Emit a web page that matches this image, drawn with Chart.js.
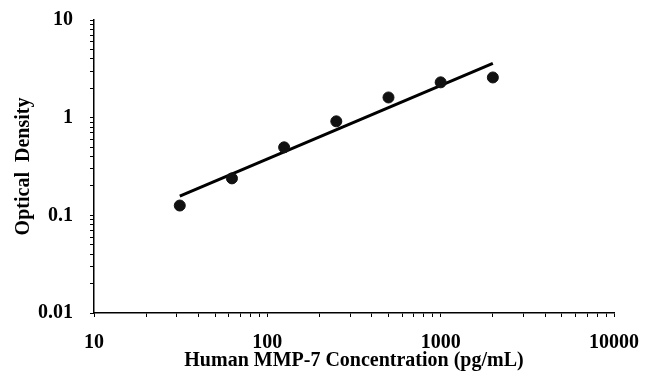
<!DOCTYPE html>
<html>
<head>
<meta charset="utf-8">
<script src="https://cdn.jsdelivr.net/npm/chart.js@4/dist/chart.umd.min.js"></script>
<style>
  html, body { margin: 0; padding: 0; background: #fff; }
  #wrap { width: 645px; height: 383px; }
</style>
</head>
<body>
<div id="wrap"><canvas id="stdCurve"></canvas></div>
<script>
// concentrations (pg/mL) and measured OD
var concentrations = [31.25, 62.5, 125, 250, 500, 1000, 2000];
var odValues = [0.126, 0.239, 0.497, 0.917, 1.61, 2.30, 2.58];

// trend line end points
var trendX = [31.25, 2000];
var trendY = [0.157, 3.6];

// tick positions and which ones get a label
var xTicks = [10, 20, 30, 40, 50, 60, 70, 80, 90,
              100, 200, 300, 400, 500, 600, 700, 800, 900,
              1000, 2000, 3000, 4000, 5000, 6000, 7000, 8000, 9000, 10000];
var xLabels = [10, 100, 1000, 10000];
var yTicks = [0.01, 0.02, 0.03, 0.04, 0.05, 0.06, 0.07, 0.08, 0.09,
              0.1, 0.2, 0.3, 0.4, 0.5, 0.6, 0.7, 0.8, 0.9,
              1, 2, 3, 4, 5, 6, 7, 8, 9, 10];
var yLabels = [0.01, 0.1, 1, 10];

var serif = "'Liberation Serif', 'Times New Roman', serif";
var boldFont = { family: serif, size: 20, weight: 'bold', lineHeight: 1 };

function toPoints(xs, ys) {
  return xs.map(function (x, i) { return { x: x, y: ys[i] }; });
}

function labelFor(list) {
  return function (value) {
    for (var i = 0; i < list.length; i++) {
      if (Math.abs(list[i] - value) < list[i] * 1e-6) return String(list[i]);
    }
    return '';
  };
}

var ctx = document.getElementById('stdCurve').getContext('2d');
var stdCurve = new Chart(ctx, {
  type: 'scatter',
  data: {
    datasets: [{
      label: 'OD',
      data: toPoints(concentrations, odValues),
      backgroundColor: '#111',
      borderColor: '#111',
      pointRadius: 5.5,
      pointHoverRadius: 5.5
    }, {
      type: 'line',
      label: 'Trend',
      data: toPoints(trendX, trendY),
      borderColor: '#000',
      borderWidth: 3,
      pointRadius: 0,
      fill: false
    }]
  },
  options: {
    responsive: true,
    maintainAspectRatio: false,
    animation: false,
    layout: { padding: { left: 0, top: 20, right: 31, bottom: 0 } },
    plugins: {
      legend: { display: false },
      tooltip: { enabled: false }
    },
    scales: {
      x: {
        type: 'logarithmic',
        min: 10,
        max: 10000,
        afterBuildTicks: function (scale) {
          scale.ticks = xTicks.map(function (v) { return { value: v }; });
        },
        afterFit: function (scale) {
          scale.height = 70;
          scale.paddingLeft = 0;
          scale.paddingRight = 0;
        },
        ticks: {
          callback: labelFor(xLabels),
          autoSkip: false,
          maxRotation: 0,
          color: '#000',
          padding: 16,
          font: boldFont
        },
        grid: { drawOnChartArea: false, tickLength: 4, color: '#000' },
        border: { color: '#000', width: 1.5 },
        title: {
          display: true,
          text: 'Human MMP-7 Concentration (pg/mL)',
          color: '#000',
          font: boldFont,
          padding: { top: 0, bottom: 12 }
        }
      },
      y: {
        type: 'logarithmic',
        min: 0.01,
        max: 10,
        afterBuildTicks: function (scale) {
          scale.ticks = yTicks.map(function (v) { return { value: v }; });
        },
        afterFit: function (scale) {
          scale.width = 94;
          scale.paddingTop = 0;
          scale.paddingBottom = 0;
        },
        ticks: {
          callback: labelFor(yLabels),
          autoSkip: false,
          color: '#000',
          padding: 17,
          font: boldFont
        },
        grid: { drawOnChartArea: false, tickLength: 4, color: '#000' },
        border: { color: '#000', width: 1.5 },
        title: {
          display: true,
          text: 'Optical  Density',
          color: '#000',
          font: boldFont,
          padding: { top: 14, bottom: 0 }
        }
      }
    }
  }
});
</script>
</body>
</html>
